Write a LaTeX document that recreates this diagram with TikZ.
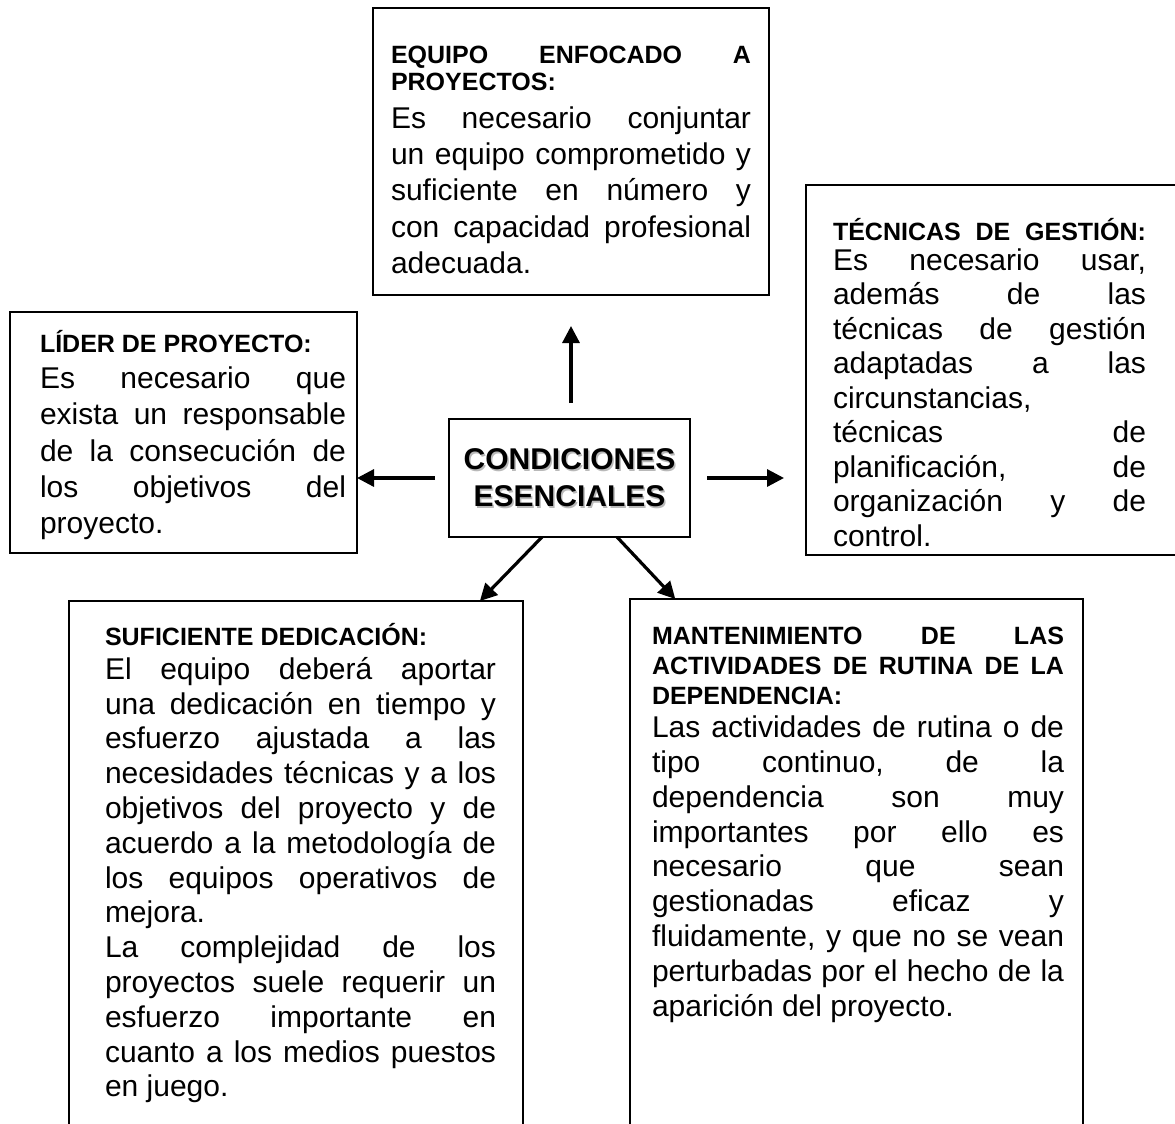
\documentclass[tikz,border=0pt]{standalone}
\usepackage{fontspec}
\setmainfont{Liberation Sans}
\usetikzlibrary{arrows.meta,calc}
\frenchspacing
\hbadness=10000
\hfuzz=20pt
\newcommand{\jline}[1]{\hbox to\hsize{#1}}
\newcommand{\lline}[1]{\hbox to\hsize{#1\hfil}}
\newcommand{\firststrut}{\vrule height 30pt depth 0pt width 0pt}
\newcommand{\headf}[1]{\fontsize{25pt}{#1}\selectfont\bfseries}
\newcommand{\bodyf}[1]{\normalfont\fontsize{30pt}{#1}\selectfont}
\begin{document}
\begin{tikzpicture}[x=1pt,y=-1pt,
  boxnode/.style={draw, line width=1.8pt, inner sep=0pt, outer sep=0pt},
  txt/.style={anchor=north west, inner sep=0pt, outer sep=0pt},
  arr/.style={line width=3.2pt, -{Triangle[length=17pt,width=17pt]}}]
\useasboundingbox (0,0) rectangle (1175,1124);
\clip (0,0) rectangle (1175,1124);

% boxes
\node[boxnode, minimum width=396pt, minimum height=287pt] (top) at (571,151.5) {};
\node[boxnode, minimum width=347pt, minimum height=241pt] (left) at (183.5,432.5) {};
\node[boxnode, minimum width=389pt, minimum height=370pt] (right) at (1000.5,370) {};
\node[boxnode, minimum width=454pt, minimum height=549pt] (bl) at (296,875.5) {};
\node[boxnode, minimum width=453pt, minimum height=551pt] (br) at (856.5,874.5) {};

% centre
\node[inner sep=0pt, outer sep=0pt, text=gray!55] (censhadow) at (571,479.5) {\vbox{\hsize=241pt \lineskiplimit=-100pt \fontsize{30pt}{36.7pt}\selectfont\bfseries
\hbox to\hsize{\hss CONDICIONES\hss}
\hbox to\hsize{\hss ESENCIALES\hss}}};
\node[boxnode, minimum width=241pt, minimum height=118pt] (cen) at (569.5,478) {\vbox{\hsize=241pt \lineskiplimit=-100pt \fontsize{30pt}{36.7pt}\selectfont\bfseries
\hbox to\hsize{\hss CONDICIONES\hss}
\hbox to\hsize{\hss ESENCIALES\hss}}};

% texts
\node[txt] (toptext) at (391,33.3) {\vbox{\hsize=360pt \lineskiplimit=-100pt
\headf{27.4pt}
\jline{\firststrut EQUIPO ENFOCADO A}
\lline{PROYECTOS:}
\bodyf{37.6pt}
\jline{Es necesario conjuntar}
\baselineskip=36.25pt
\jline{un equipo comprometido y}
\jline{suficiente en número y}
\jline{con capacidad profesional}
\lline{adecuada.}}};

\node[txt] (lefttext) at (40,322.7) {\vbox{\hsize=306pt \lineskiplimit=-100pt
\headf{28pt}
\lline{\firststrut LÍDER DE PROYECTO:}
\bodyf{35.6pt}
\jline{Es necesario que}
\baselineskip=36.4pt
\jline{exista un responsable}
\jline{de la consecución de}
\jline{los objetivos del}
\lline{proyecto.}}};

\node[txt] (righttext) at (833,210.7) {\vbox{\hsize=313pt \lineskiplimit=-100pt
\headf{28pt}
\jline{\firststrut TÉCNICAS DE GESTIÓN:}
\bodyf{29.3pt}
\jline{Es necesario usar,}
\baselineskip=34.5pt
\jline{además de las}
\jline{técnicas de gestión}
\jline{adaptadas a las}
\lline{circunstancias,}
\jline{técnicas de}
\jline{planificación, de}
\jline{organización y de}
\lline{control.}}};

\node[txt] (bltext) at (105,615) {\vbox{\hsize=391pt \lineskiplimit=-100pt
\headf{28pt}
\lline{\firststrut SUFICIENTE DEDICACIÓN:}
\bodyf{34.3pt}
\jline{El equipo deberá aportar}
\baselineskip=34.8pt
\jline{una dedicación en tiempo y}
\jline{esfuerzo ajustada a las}
\jline{necesidades técnicas y a los}
\jline{objetivos del proyecto y de}
\jline{acuerdo a la metodología de}
\jline{los equipos operativos de}
\lline{mejora.}
\jline{La complejidad de los}
\jline{proyectos suele requerir un}
\jline{esfuerzo importante en}
\jline{cuanto a los medios puestos}
\lline{en juego.}}};

\node[txt] (brtext) at (652,614) {\vbox{\hsize=412pt \lineskiplimit=-100pt
\headf{30pt}
\jline{\firststrut MANTENIMIENTO DE LAS}
\jline{ACTIVIDADES DE RUTINA DE LA}
\lline{DEPENDENCIA:}
\bodyf{33.3pt}
\jline{Las actividades de rutina o de}
\baselineskip=34.9pt
\jline{tipo continuo, de la}
\jline{dependencia son muy}
\jline{importantes por ello es}
\jline{necesario que sean}
\jline{gestionadas eficaz y}
\jline{fluidamente, y que no se vean}
\jline{perturbadas por el hecho de la}
\lline{aparición del proyecto.}}};

% arrows
\draw[arr, shorten <=16pt, shorten >=31pt] (cen.north -| top.south) -- (top.south);
\draw[arr, shorten <=14pt] (cen.west) -- (cen.west -| left.east);
\draw[arr, shorten <=17pt, shorten >=22pt] (cen.east) -- (cen.east -| right.west);
\draw[arr] ($(cen.south west)!0.386!(cen.south east)$) -- ($(bl.north west)!0.905!(bl.north east)$);
\draw[arr] ($(cen.south west)!0.697!(cen.south east)$) -- ($(br.north west)!0.10!(br.north east)$);
\end{tikzpicture}
\end{document}
